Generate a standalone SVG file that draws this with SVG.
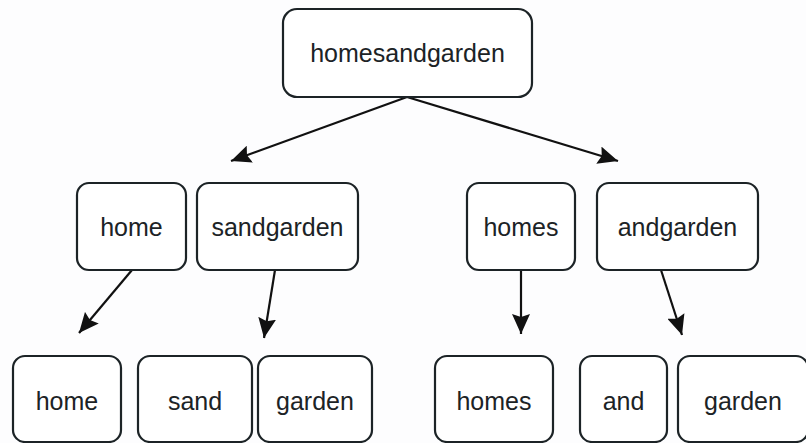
<svg xmlns="http://www.w3.org/2000/svg" width="806" height="443" viewBox="0 0 806 443">
<defs>
<style>
.box{fill:#ffffff;stroke:#1c2326;stroke-width:2.2}
.lbl{font-family:"Liberation Sans",Arial,sans-serif;font-size:25px;fill:#1c2326;text-anchor:middle}
.edge{stroke:#111111;stroke-width:2.2;fill:none;marker-end:url(#arr)}
</style>
<marker id="arr" markerUnits="userSpaceOnUse" markerWidth="22" markerHeight="18" refX="20" refY="9" orient="auto">
<path d="M0,0 L20,9 L0,18 L3,9 Z" fill="#111111"/>
</marker>
</defs>
<rect width="806" height="443" fill="#fdfdfe"/>
<g id="connectors">
<line class="edge" x1="407" y1="97" x2="231" y2="161"/>
<line class="edge" x1="407" y1="97" x2="618" y2="161"/>
<line class="edge" x1="132" y1="270" x2="79" y2="333"/>
<line class="edge" x1="275" y1="270" x2="264" y2="338"/>
<line class="edge" x1="521" y1="270" x2="521" y2="334"/>
<line class="edge" x1="661" y1="270" x2="682" y2="335"/>
</g>
<g id="n-homesandgarden">
<rect class="box" x="283" y="9" width="249" height="88" rx="14"/>
<text class="lbl" x="407.5" y="62">homesandgarden</text>
</g>
<g id="n-home1">
<rect class="box" x="77" y="183" width="109" height="87" rx="12"/>
<text class="lbl" x="131.5" y="236">home</text>
</g>
<g id="n-sandgarden">
<rect class="box" x="197" y="183" width="161" height="87" rx="12"/>
<text class="lbl" x="277.5" y="236">sandgarden</text>
</g>
<g id="n-homes1">
<rect class="box" x="467" y="183" width="108" height="87" rx="12"/>
<text class="lbl" x="521" y="236">homes</text>
</g>
<g id="n-andgarden">
<rect class="box" x="597" y="183" width="161" height="87" rx="12"/>
<text class="lbl" x="677.5" y="236">andgarden</text>
</g>
<g id="n-home2">
<rect class="box" x="13" y="356" width="108" height="86" rx="12"/>
<text class="lbl" x="67" y="410">home</text>
</g>
<g id="n-sand">
<rect class="box" x="138" y="356" width="114" height="86" rx="12"/>
<text class="lbl" x="195" y="410">sand</text>
</g>
<g id="n-garden1">
<rect class="box" x="258" y="356" width="114" height="86" rx="12"/>
<text class="lbl" x="315" y="410">garden</text>
</g>
<g id="n-homes2">
<rect class="box" x="435" y="356" width="118" height="86" rx="12"/>
<text class="lbl" x="494" y="410">homes</text>
</g>
<g id="n-and">
<rect class="box" x="580" y="356" width="87" height="86" rx="12"/>
<text class="lbl" x="623.5" y="410">and</text>
</g>
<g id="n-garden2">
<rect class="box" x="678" y="356" width="130" height="86" rx="12"/>
<text class="lbl" x="743" y="410">garden</text>
</g>
</svg>
